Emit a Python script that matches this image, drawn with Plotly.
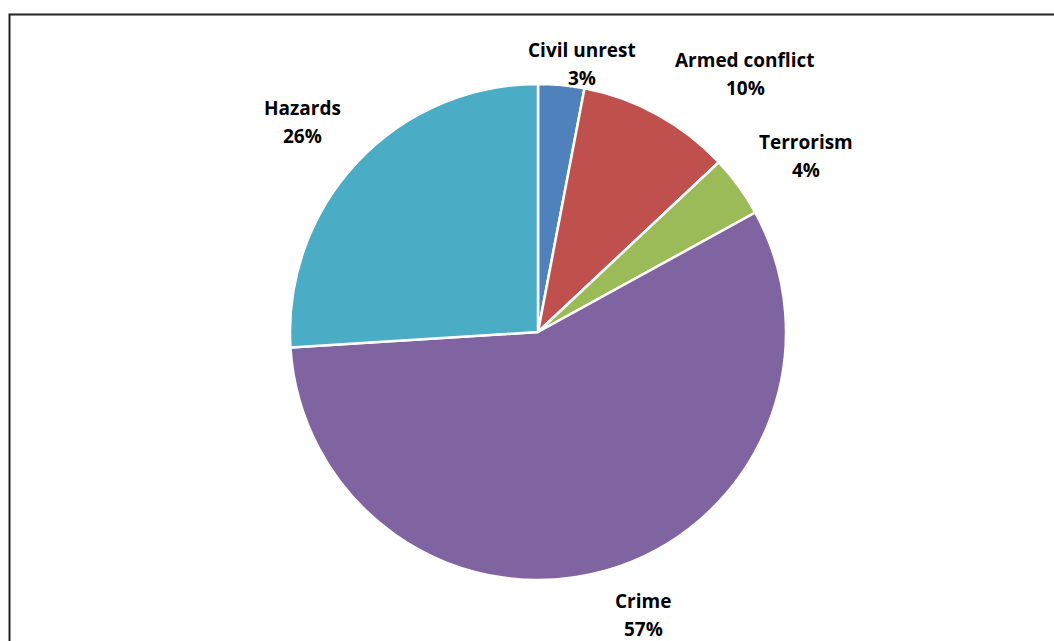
import math
import plotly.graph_objects as go

# Share of incidents by category (percent)
categories = ["Civil unrest", "Armed conflict", "Terrorism", "Crime", "Hazards"]
shares = [3, 10, 4, 57, 26]
colors = ["#4F81BD", "#C0504D", "#9BBB59", "#8064A2", "#4BACC6"]

W, H = 1054, 641
cx, cy, r = 538, 332, 248  # pie centre and radius in pixels

fig = go.Figure(
    go.Pie(
        labels=categories,
        values=shares,
        sort=False,
        direction="clockwise",
        rotation=0,
        marker=dict(colors=colors, line=dict(color="white", width=2.5)),
        textinfo="none",
        hoverinfo="label+percent",
        showlegend=False,
        domain=dict(
            x=[(cx - r) / W, (cx + r) / W],
            y=[(H - cy - r) / H, (H - cy + r) / H],
        ),
    )
)

# Label placement (pixel centres of the two-line labels)
label_pos = {
    "Civil unrest": (582, 50),
    "Armed conflict": (745, 60),
    "Terrorism": (806, 142),
    "Crime": (643, 601),
    "Hazards": (302, 108),
}
line_gap = 28
font = dict(family="'Open Sans', Lato, sans-serif", size=19, color="#000000")

annotations = []
for name, val in zip(categories, shares):
    px, py = label_pos[name]
    for i, txt in enumerate([name, f"{val}%"]):
        annotations.append(
            dict(
                x=px / W,
                y=1 - (py + i * line_gap) / H,
                xref="paper",
                yref="paper",
                text=f"<b>{txt}</b>",
                showarrow=False,
                xanchor="center",
                yanchor="middle",
                font=font,
            )
        )

fig.update_layout(
    width=W,
    height=H,
    margin=dict(l=0, r=0, t=0, b=0),
    paper_bgcolor="white",
    plot_bgcolor="white",
    annotations=annotations,
    shapes=[
        dict(
            type="rect",
            xref="paper",
            yref="paper",
            x0=9.5 / W,
            x1=1.02,
            y0=-0.02,
            y1=1 - 14.5 / H,
            line=dict(color="#222222", width=2),
            fillcolor="rgba(0,0,0,0)",
            layer="below",
        )
    ],
)

fig.write_html("out.html")
